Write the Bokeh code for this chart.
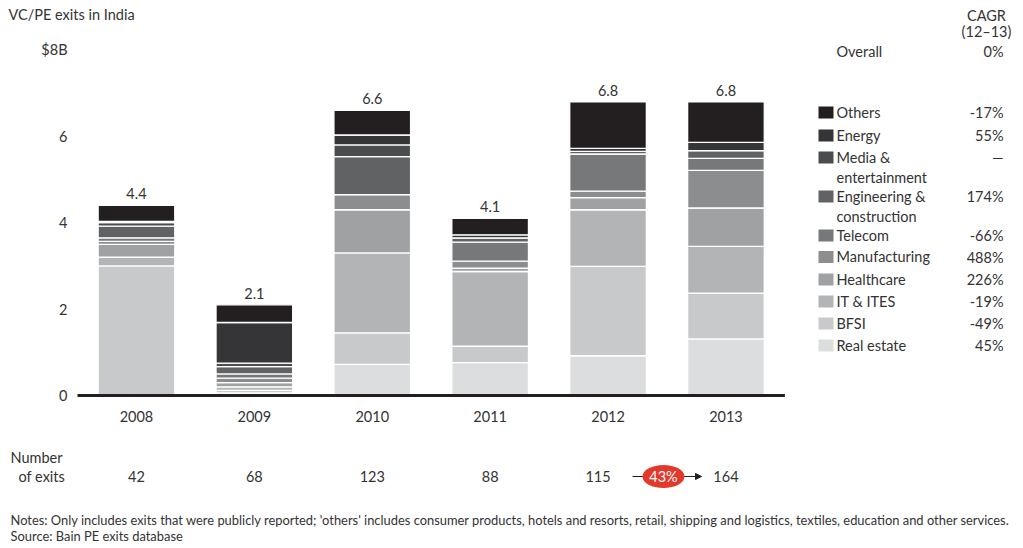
from bokeh.plotting import figure
from bokeh.models import ColumnDataSource, Range1d, Arrow, NormalHead
from bokeh.embed import file_html
from bokeh.resources import INLINE

# ---------------- data ----------------
years = ["2008", "2009", "2010", "2011", "2012", "2013"]
categories = ["Real estate", "BFSI", "IT & ITES", "Healthcare", "Manufacturing", "Telecom",
              "Engineering & construction", "Media & entertainment", "Energy", "Others"]
real_estate   = [0.00, 0.06, 0.72, 0.76, 0.92, 1.31]
bfsi          = [3.00, 0.06, 0.73, 0.38, 2.07, 1.06]
it_ites       = [0.20, 0.08, 1.85, 1.73, 1.31, 1.08]
healthcare    = [0.30, 0.10, 1.00, 0.08, 0.28, 0.89]
manufacturing = [0.07, 0.10, 0.35, 0.16, 0.15, 0.87]
telecom       = [0.08, 0.10, 0.00, 0.44, 0.86, 0.28]
engineering   = [0.27, 0.17, 0.88, 0.10, 0.06, 0.18]
media         = [0.08, 0.08, 0.27, 0.00, 0.00, 0.00]
energy        = [0.03, 0.94, 0.23, 0.07, 0.07, 0.19]
others        = [0.37, 0.41, 0.57, 0.38, 1.08, 0.94]
cagr_labels   = ["45%", "-49%", "-19%", "226%", "488%", "-66%", "174%", "\u2014", "55%", "-17%"]
overall_cagr  = "0%"
exits         = [42, 68, 123, 88, 115, 164]
y_ticks       = [0, 2, 4, 6, 8]
y_tick_labels = ["0", "2", "4", "6", "$8B"]

# ---------------- style ----------------
FONT = {"value": "Lato"}
TXT = "#333333"
FS = "14.5px"
colors = ["#dcdddf", "#c8c9cb", "#b3b4b6", "#a0a1a3", "#8c8d8f",
          "#77787a", "#616264", "#4b4c4e", "#353537", "#231f20"]
legend_lines = ["Real estate", "BFSI", "IT & ITES", "Healthcare", "Manufacturing", "Telecom",
                "Engineering &\nconstruction", "Media &\nentertainment", "Energy", "Others"]

W, H = 1023, 548
PXX, PXY = 117.9, 43.2          # pixels per data unit
LEFT_PX, BASE_PX = 77, 395      # page x of the first category's left edge, page y of zero

def dx(px):  # page x -> data x
    return (px - LEFT_PX) / PXX - 0.5
def dy(py):  # page y -> data y
    return (BASE_PX - py) / PXY

keys = ["real_estate", "bfsi", "it_ites", "healthcare", "manufacturing", "telecom",
        "engineering", "media", "energy", "others"]
series = [real_estate, bfsi, it_ites, healthcare, manufacturing, telecom,
          engineering, media, energy, others]
xs = list(range(len(years)))
data = dict(x=xs)
for k, s in zip(keys, series):
    data[k] = s
source = ColumnDataSource(data)
totals = [sum(s[i] for s in series) for i in xs]

p = figure(width=W, height=H, output_backend="svg", toolbar_location=None,
           x_range=Range1d(dx(0), dx(W)), y_range=Range1d(dy(H), dy(0)),
           x_axis_type=None, y_axis_type=None,
           min_border_left=0, min_border_right=0, min_border_top=0, min_border_bottom=0)
p.outline_line_color = None
p.background_fill_color = "white"

def txt(x, y, text, align="left", baseline="middle", size=FS, color=TXT, **kw):
    p.text(x=x, y=y, text=text, text_align=align, text_baseline=baseline,
           text_font_size=size, text_color=color, text_font=FONT, **kw)

# stacked bars
p.vbar_stack(keys, x="x", width=0.65, fill_color=colors, line_color="white",
             line_width=1.3, source=source)
# baseline (x axis line)
p.segment(x0=[xs[0] - 0.5], y0=[0], x1=[xs[-1] + 0.5], y1=[0], line_width=3,
          line_color="#231f20")
# totals
txt(xs, totals, ["%.1f" % t for t in totals], align="center", baseline="bottom", y_offset=-6)
# category labels
txt(xs, [0] * len(xs), years, align="center", y_offset=21)
# y tick labels
txt([dx(67)] * len(y_ticks), y_ticks, y_tick_labels, align="right")

# title
txt([dx(8)], [dy(14)], ["VC/PE exits in India"])

# legend (bottom to top order, matching categories) with CAGR column
leg_page_y = [345, 323, 301, 279, 256.5, 235, 196, 157, 135, 112]
leg_y = [dy(v) for v in leg_page_y]
p.rect(x=[dx(825.5)] * len(categories), y=leg_y, width=15, height=12,
       width_units="screen", height_units="screen", fill_color=colors, line_color=None)
txt([dx(836)] * len(categories), leg_y, legend_lines, baseline="top", y_offset=-9,
    text_line_height=1.2)
txt([dx(1003)] * len(categories), leg_y, cagr_labels, align="right")

# CAGR header
txt([dx(986), dx(986)], [dy(15), dy(31)], ["CAGR", "(12\u201313)"], align="center")
txt([dx(836)], [dy(51)], ["Overall"])
txt([dx(1003)], [dy(51)], [overall_cagr], align="right")

# number of exits row
txt([dx(10), dx(18)], [dy(457), dy(476)], ["Number", "of exits"])
txt(xs, [dy(476)] * len(xs), [str(e) for e in exits], align="center",
    x_offset=[0, 0, 0, 0, -10, 0])

growth = (exits[-1] / exits[-2] - 1) * 100
mid_x = (xs[-2] + xs[-1]) / 2 - 0.03
p.add_layout(Arrow(x_start=dx(632), y_start=dy(476), x_end=dx(701), y_end=dy(476),
                   line_color="#231f20", line_width=1, level="underlay",
                   end=NormalHead(size=6, fill_color="#231f20", line_color="#231f20")))
p.ellipse(x=[mid_x], y=[dy(476)], width=42, height=23, width_units="screen",
          height_units="screen", fill_color="#e2392b", line_color=None)
txt([mid_x], [dy(476)], ["%d%%" % round(growth)], align="center", color="white")

notes = ("Notes: Only includes exits that were publicly reported; 'others' includes consumer "
         "products, hotels and resorts, retail, shipping and logistics, textiles, education "
         "and other services.")
txt([dx(10), dx(10)], [dy(519), dy(535)], [notes, "Source: Bain PE exits database"],
    size="12.9px")

open("out.html", "w").write(file_html(p, INLINE))
